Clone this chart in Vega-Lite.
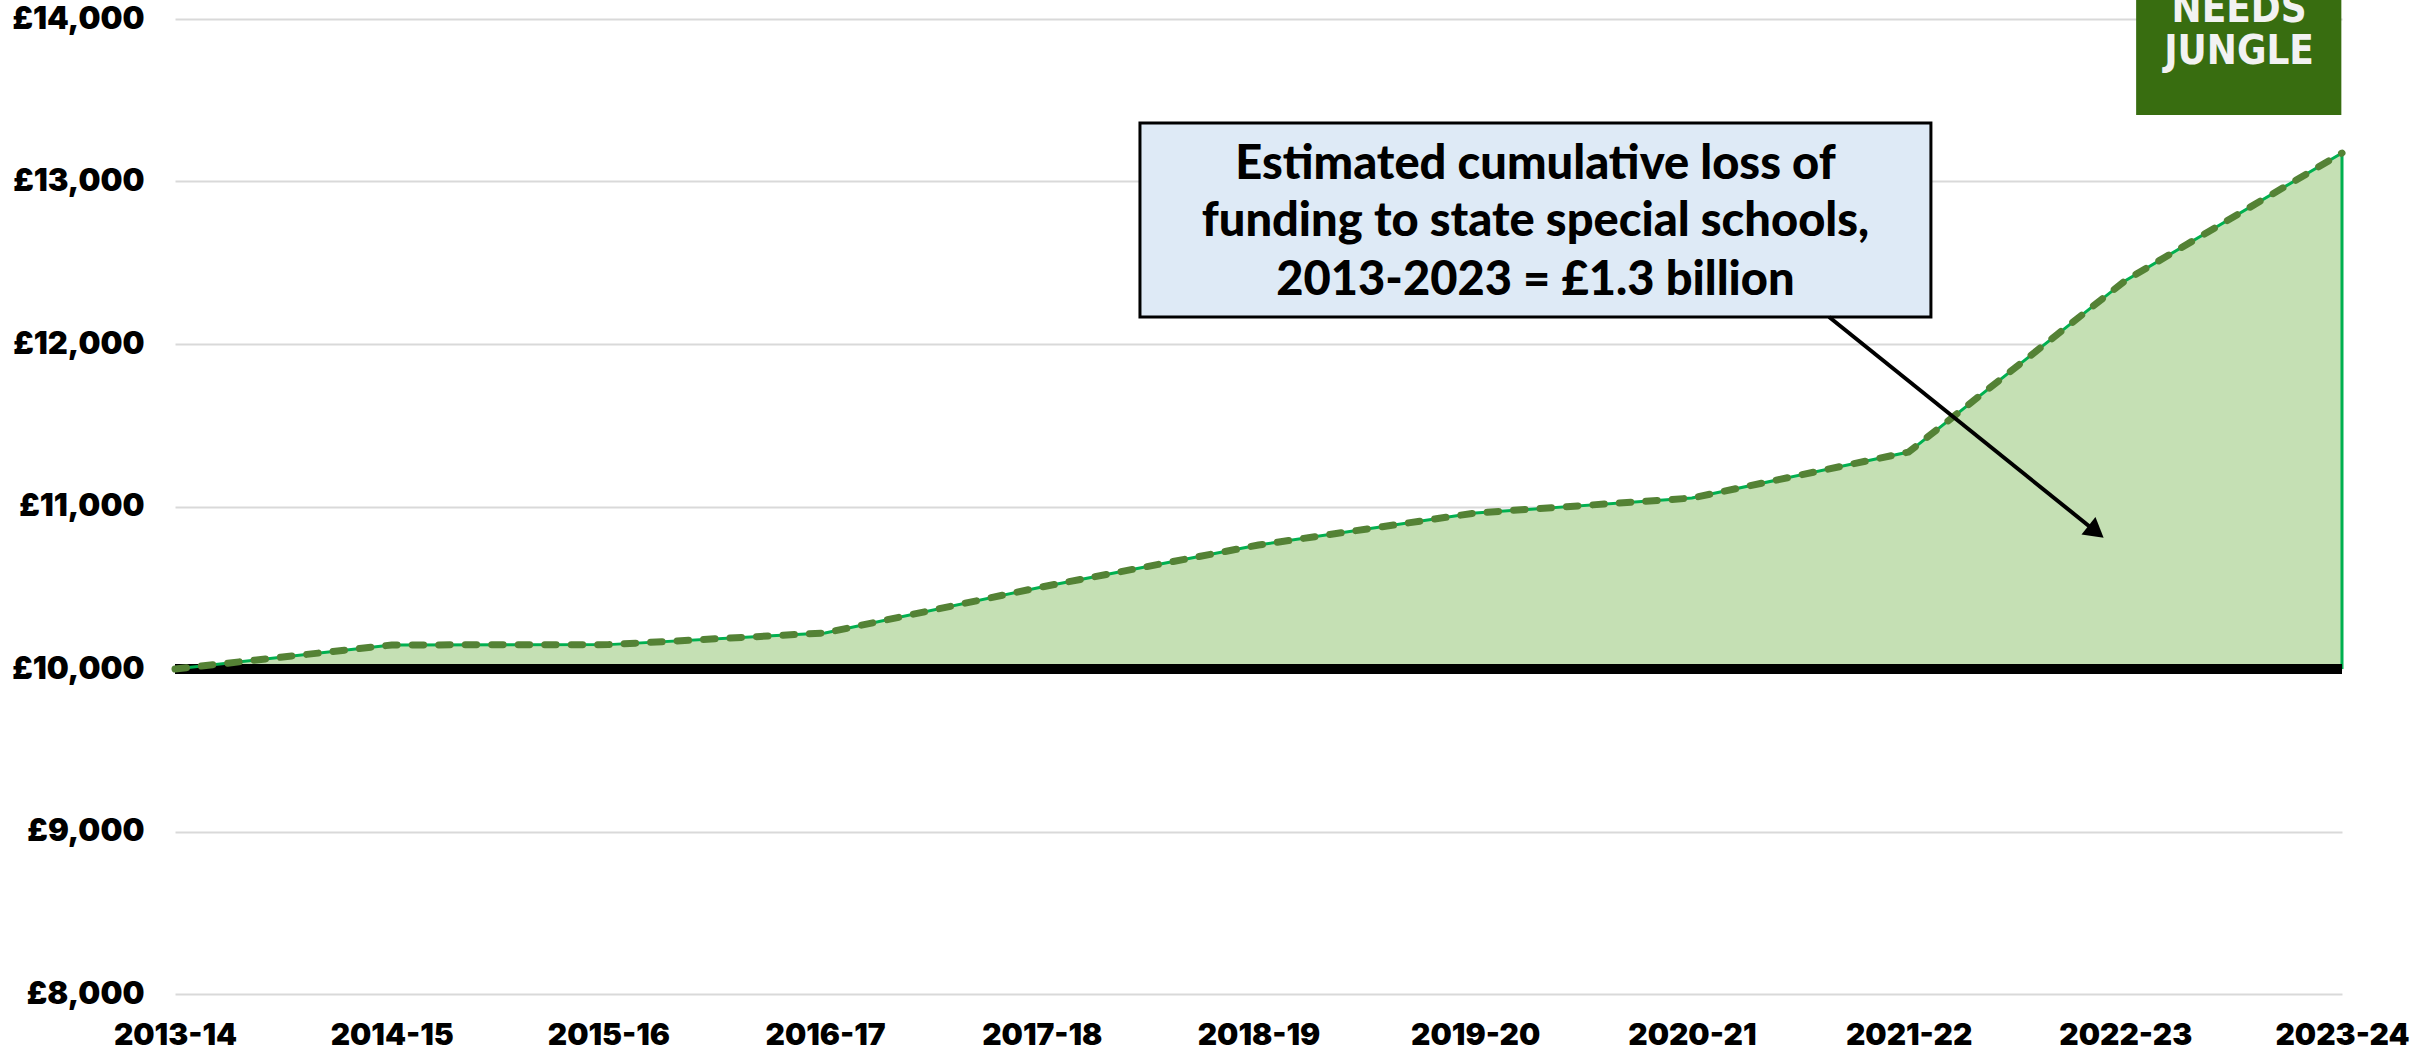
{
  "$schema": "https://vega.github.io/schema/vega-lite/v6.json",
  "width": 2167,
  "height": 975,
  "autosize": "none",
  "padding": {"left": 175, "top": 19, "right": 93, "bottom": 64},
  "background": "white",
  "config": {"view": {"stroke": null}, "font": "Lato"},
  "datasets": {
    "funding": [
      {"year": 2013, "value": 10000},
      {"year": 2014, "value": 10148},
      {"year": 2015, "value": 10150},
      {"year": 2016, "value": 10222},
      {"year": 2017, "value": 10505},
      {"year": 2018, "value": 10763},
      {"year": 2019, "value": 10960},
      {"year": 2020, "value": 11052},
      {"year": 2021, "value": 11335},
      {"year": 2022, "value": 12390},
      {"year": 2023, "value": 13175}
    ],
    "callout": [{"x0": 2017.453, "x1": 2021.103, "y0": 12166, "y1": 13360}],
    "callout_text": [
      {"x": 2019.278, "y": 13102, "line": "Estimated cumulative loss of"},
      {"x": 2019.278, "y": 12751, "line": "funding to state special schools,"},
      {"x": 2019.278, "y": 12388, "line": "2013-2023 = £1.3 billion"}
    ],
    "arrow": [{"x0": 2020.633, "y0": 12166, "x1": 2021.865, "y1": 10845, "angle": 38.6}],
    "logo": [{"x0": 2022.05, "x1": 2022.997, "y0": 13409, "y1": 14117}],
    "logo_text": [
      {"x": 2022.525, "y": 14055, "t": "NEEDS"},
      {"x": 2022.525, "y": 13797, "t": "JUNGLE"}
    ]
  },
  "layer": [
    {
      "data": {"name": "funding"},
      "mark": {"type": "area", "interpolate": "linear", "color": "#C5E0B4", "opacity": 1},
      "encoding": {
        "x": {
          "field": "year", "type": "quantitative",
          "scale": {"domain": [2013, 2023], "nice": false, "zero": false},
          "axis": {
            "title": null, "values": [2013, 2014, 2015, 2016, 2017, 2018, 2019, 2020, 2021, 2022, 2023],
            "labelExpr": "datum.value + '-' + substring(toString(datum.value + 1), 2)",
            "grid": false, "domain": false, "ticks": false, "tickSize": 0,
            "labelFont": "Inter", "labelFontWeight": 900, "labelFontSize": 30, "labelColor": "#000000",
            "labelPadding": 26, "labelFlush": false, "labelOverlap": false
          }
        },
        "y": {
          "field": "value", "type": "quantitative",
          "scale": {"domain": [8000, 14000], "nice": false, "zero": false},
          "axis": {
            "title": null, "values": [8000, 9000, 10000, 11000, 12000, 13000, 14000],
            "labelExpr": "'£' + format(datum.value, ',')",
            "grid": true, "gridColor": "#d9d9d9", "gridWidth": 2,
            "domain": false, "ticks": false, "tickSize": 0,
            "labelFont": "Inter", "labelFontWeight": 900, "labelFontSize": 31, "labelColor": "#000000",
            "labelPadding": 31
          }
        },
        "y2": {"datum": 10000}
      }
    },
    {
      "data": {"name": "funding"},
      "transform": [{"filter": "datum.year == 2023"}],
      "mark": {"type": "rule", "color": "#00B050", "strokeWidth": 3},
      "encoding": {
        "x": {"field": "year", "type": "quantitative"},
        "y": {"field": "value", "type": "quantitative"},
        "y2": {"datum": 10000}
      }
    },
    {
      "data": {"name": "funding"},
      "mark": {"type": "rule", "color": "#000000", "strokeWidth": 10},
      "encoding": {
        "x": {"datum": 2013, "type": "quantitative"},
        "x2": {"datum": 2023},
        "y": {"datum": 10000, "type": "quantitative"}
      }
    },
    {
      "data": {"name": "funding"},
      "mark": {"type": "line", "interpolate": "linear", "color": "#00B050", "strokeWidth": 3},
      "encoding": {
        "x": {"field": "year", "type": "quantitative"},
        "y": {"field": "value", "type": "quantitative"}
      }
    },
    {
      "data": {"name": "funding"},
      "mark": {"type": "line", "interpolate": "linear", "color": "#548235", "strokeWidth": 7, "strokeDash": [11.5, 15], "strokeCap": "round"},
      "encoding": {
        "x": {"field": "year", "type": "quantitative"},
        "y": {"field": "value", "type": "quantitative"}
      }
    },
    {
      "data": {"name": "callout"},
      "mark": {"type": "rect", "fill": "#DEEAF6", "stroke": "#000000", "strokeWidth": 3},
      "encoding": {
        "x": {"field": "x0", "type": "quantitative"},
        "x2": {"field": "x1"},
        "y": {"field": "y0", "type": "quantitative"},
        "y2": {"field": "y1"}
      }
    },
    {
      "data": {"name": "callout_text"},
      "mark": {"type": "text", "font": "Lato", "fontWeight": 900, "fontSize": 47, "color": "#000000", "align": "center", "baseline": "middle"},
      "encoding": {
        "x": {"field": "x", "type": "quantitative"},
        "y": {"field": "y", "type": "quantitative"},
        "text": {"field": "line"}
      }
    },
    {
      "data": {"name": "arrow"},
      "mark": {"type": "rule", "color": "#000000", "strokeWidth": 4},
      "encoding": {
        "x": {"field": "x0", "type": "quantitative"},
        "x2": {"field": "x1"},
        "y": {"field": "y0", "type": "quantitative"},
        "y2": {"field": "y1"}
      }
    },
    {
      "data": {"name": "arrow"},
      "mark": {"type": "point", "shape": "triangle-right", "filled": true, "color": "#000000", "size": 500, "opacity": 1},
      "encoding": {
        "x": {"field": "x1", "type": "quantitative"},
        "y": {"field": "y1", "type": "quantitative"},
        "angle": {"field": "angle", "type": "quantitative", "scale": null}
      }
    },
    {
      "data": {"name": "logo"},
      "mark": {"type": "rect", "fill": "#386d10"},
      "encoding": {
        "x": {"field": "x0", "type": "quantitative"},
        "x2": {"field": "x1"},
        "y": {"field": "y0", "type": "quantitative"},
        "y2": {"field": "y1"}
      }
    },
    {
      "data": {"name": "logo_text"},
      "mark": {"type": "text", "font": "DejaVu Sans Condensed", "fontWeight": "bold", "fontSize": 40, "color": "#f2f2f2", "align": "center", "baseline": "middle"},
      "encoding": {
        "x": {"field": "x", "type": "quantitative"},
        "y": {"field": "y", "type": "quantitative"},
        "text": {"field": "t"}
      }
    }
  ]
}
